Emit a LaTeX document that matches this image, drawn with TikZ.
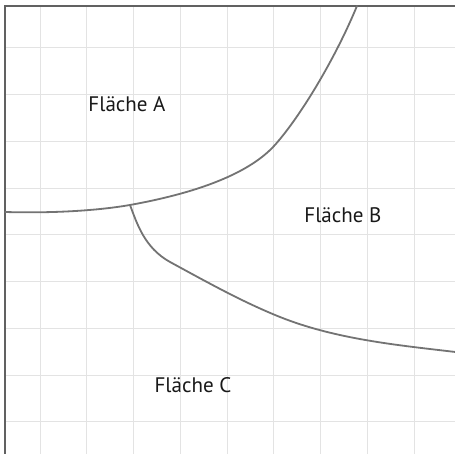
\documentclass[tikz,border=0pt]{standalone}
\usepackage{fontspec}
\setsansfont{PT Sans}
\usepackage{tikz}
\usetikzlibrary{positioning, calc}
\tikzset{
    grid_line/.style={
        draw=black!11, line width=0.6pt
    },
    frame_line/.style={
        draw=black!62, line width=1.1pt
    },
    area_edge/.style={
        draw=black!55, line width=1.1pt, line cap=round
    },
    area_lbl/.style={
        font=\sffamily\fontsize{12.8}{14}\selectfont, text=black!90,
        anchor=base, inner sep=0pt
    }
}

\begin{document}
\begin{tikzpicture}

    \useasboundingbox (0,0) rectangle (9.733,9.711);

    % grid
    \foreach \gx in {0,...,8} {
        \draw[grid_line] (0.856+\gx, 0) -- (0.856+\gx, 9.583);
    }
    \foreach \gy in {0,...,8} {
        \draw[grid_line] (0.107, 8.685-\gy) -- (9.733, 8.685-\gy);
    }

    % frame (top and left)
    \coordinate (frame_bl) at (0.107, 0);
    \coordinate (frame_tl) at (0.107, 9.583);
    \coordinate (frame_tr) at (9.733, 9.583);
    \draw[frame_line] (frame_bl) -- (frame_tl) -- (frame_tr);

    \coordinate (west_end) at (0.107, 5.176);
    \coordinate (knot) at (2.781, 5.326);
    \coordinate (bend_ab) at (5.882, 6.610);
    \coordinate (top_end) at (7.636, 9.583);
    \coordinate (bend_bc1) at (3.636, 4.107);
    \coordinate (bend_bc2) at (5.989, 2.930);
    \coordinate (east_end) at (9.733, 2.182);

    % border A / B
    \draw[area_edge] (west_end) .. controls (1.0, 5.15) and (2.0, 5.19) .. (knot)
        .. controls (3.8, 5.51) and (5.22, 5.87) .. (bend_ab)
        .. controls (6.45, 7.25) and (7.19, 8.50) .. (top_end);

    % border B / C
    \draw[area_edge] (knot) .. controls (2.93, 4.93) and (3.09, 4.41) .. (bend_bc1)
        .. controls (4.44, 3.67) and (5.19, 3.25) .. (bend_bc2)
        .. controls (7.19, 2.45) and (8.53, 2.326) .. (east_end);

    \node[area_lbl] (flA) at (2.717, 7.316) {Fläche A};
    \node[area_lbl] (flB) at (7.337, 4.941) {Fläche B};
    \node[area_lbl] (flC) at (4.128, 1.305) {Fläche C};

\end{tikzpicture}
\end{document}
